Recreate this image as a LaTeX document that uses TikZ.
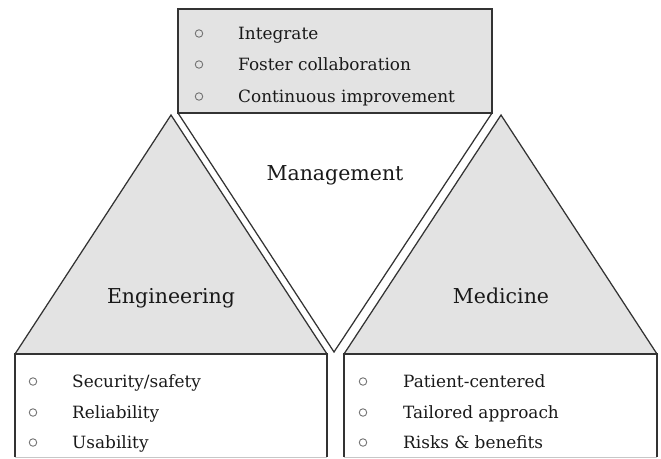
\documentclass[tikz,border=0pt]{standalone}
\usepackage{fontspec}
\setmainfont{DejaVu Serif}
\usetikzlibrary{positioning}

\tikzset{
    facet/.style={draw=black!80, line width=1.25pt, fill=black!11, line join=miter},
    edge/.style={draw=black!80, line width=1.25pt},
    head/.style={anchor=base, inner sep=0pt, font=\fontsize{20.5}{24}\selectfont, text=black!90},
    item/.style={anchor=base west, inner sep=0pt, font=\fontsize{16.9}{19}\selectfont, text=black!90},
    bullet/.style={circle, draw=black!55, line width=0.9pt, inner sep=0pt, minimum size=7.5pt},
}

\begin{document}
\begin{tikzpicture}[x=1pt,y=-1pt]
        \useasboundingbox (0,0) rectangle (661,458);
        % top box and the open triangle under it
        \path[facet] (178,9) rectangle (492,113);
        \path[edge] (178,113) -- (334,352) -- (492,113);
        % the two side triangles
        \path[facet] (171,115) -- (327,354) -- (15,354) -- cycle;
        \path[facet] (501,115) -- (657,354) -- (344,354) -- cycle;
        % lower boxes, cut off at the bottom
        \path[edge] (15,457) -- (15,354) -- (327,354) -- (327,457);
        \path[edge] (344,457) -- (344,354) -- (657,354) -- (657,457);
        \path[draw=black!22, line width=0.8pt] (15,457) -- (327,457) (344,457) -- (657,457);
        \node[head] (mgmt) at (335,180) {Management};
        \node[head] (eng) at (171,303.5) {Engineering};
        \node[head] (med) at (501,303.5) {Medicine};
        \foreach \y/\t [count=\i] in {39/Integrate, 70/Foster collaboration, 102/Continuous improvement} {
            \node[bullet] (mb\i) at (199,\y-5.5) {};
            \node[item] (mi\i) at (238,\y) {\t};
        }
        \foreach \y/\t [count=\i] in {387/{Security/safety}, 418/Reliability, 448/Usability} {
            \node[bullet] (eb\i) at (33,\y-5.5) {};
            \node[item] (ei\i) at (72,\y) {\t};
        }
        \foreach \y/\t [count=\i] in {387/Patient-centered, 418/Tailored approach, 448/{Risks \& benefits}} {
            \node[bullet] (db\i) at (363,\y-5.5) {};
            \node[item] (di\i) at (403,\y) {\t};
        }
\end{tikzpicture}
\end{document}
